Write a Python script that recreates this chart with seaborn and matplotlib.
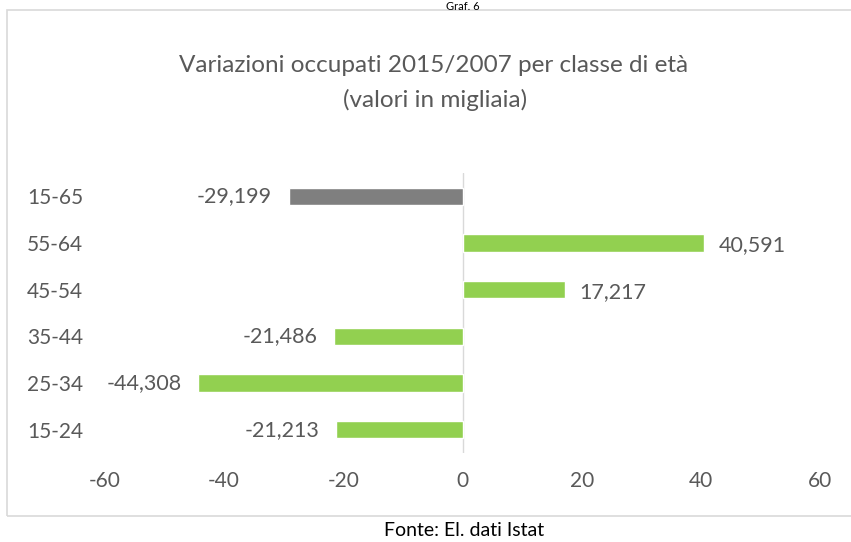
import matplotlib
matplotlib.use("Agg")
import matplotlib.pyplot as plt
from matplotlib.patches import Rectangle
import seaborn as sns
import pandas as pd

# Dati (variazioni in migliaia)
classi = ["15-65", "55-64", "45-54", "35-44", "25-34", "15-24"]
variazioni = [-29.199, 40.591, 17.217, -21.486, -44.308, -21.213]
colori = ["#7f7f7f", "#92d050", "#92d050", "#92d050", "#92d050", "#92d050"]
xticks = [-60, -40, -20, 0, 20, 40, 60]

df = pd.DataFrame({"classe": classi, "valore": variazioni})

sns.set_theme(style="white")
plt.rcParams["font.family"] = ["Lato", "DejaVu Sans"]
testo = "#595959"

fig = plt.figure(figsize=(8.51, 5.42), dpi=100)
ax = fig.add_axes([105 / 851, 1 - 453 / 542, (820 - 105) / 851, 280 / 542])

sns.barplot(data=df, y="classe", x="valore", hue="classe", palette=colori,
            order=classi, orient="h", width=0.37, legend=False, ax=ax,
            saturation=1)

ax.set_xlim(-60, 60)
ax.set_xticks(xticks)
ax.set_xticklabels([str(t) for t in xticks], fontsize=15, color=testo)
ax.set_xlabel("")
ax.set_ylabel("")
ax.tick_params(axis="y", labelsize=15, labelcolor=testo, length=0, pad=0)
ax.tick_params(axis="x", length=0, pad=13)
for lab in ax.get_yticklabels():
    lab.set_horizontalalignment("left")
    lab.set_x(-(105 - 27) / (820 - 105))
for s in ax.spines.values():
    s.set_visible(False)
ax.axvline(0, color="#d9d9d9", lw=1, zorder=0)

for i, v in enumerate(variazioni):
    etichetta = f"{v:.3f}".replace(".", ",")
    if v < 0:
        ax.text(v - 2.8, i, etichetta, ha="right", va="center", fontsize=15.5, color=testo)
    else:
        ax.text(v + 2.4, i + 0.05, etichetta, ha="left", va="center", fontsize=15.5, color=testo)

# cornice del grafico
fig.patches.append(Rectangle((7 / 851, 1 - 516 / 542), 850 / 851, 506 / 542,
                             transform=fig.transFigure, fill=False,
                             edgecolor="#d9d9d9", lw=1.2))

fig.text(434 / 851, 1 - 66 / 542, "Variazioni occupati 2015/2007 per classe di età",
         ha="center", va="center", fontsize=17.5, color=testo)
fig.text(435 / 851, 1 - 100 / 542, "(valori in migliaia)",
         ha="center", va="center", fontsize=17.5, color=testo)
fig.text(463 / 851, 1 - 1 / 542, "Graf. 6", ha="center", va="top", fontsize=8, color="black")
fig.text(464 / 851, 1 - 531 / 542, "Fonte: El. dati Istat",
         ha="center", va="center", fontsize=14, color="black")

fig.savefig("out.png", dpi=100)
